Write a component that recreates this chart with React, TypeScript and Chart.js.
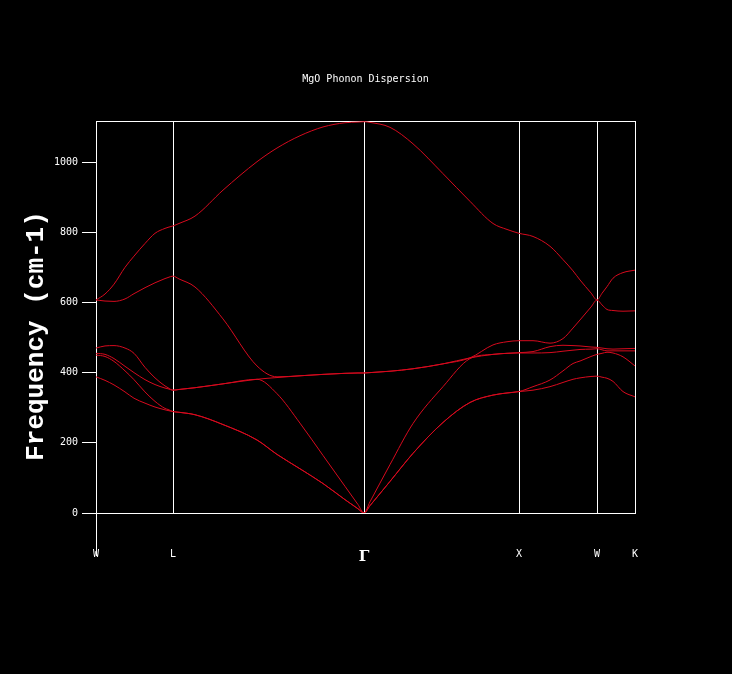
import React, { useEffect, useRef } from 'react';
import { Chart, registerables } from 'chart.js';

Chart.register(...registerables);

const chartTitle = 'MgO Phonon Dispersion';
const yAxisTitle = 'Frequency (cm-1)';

// high-symmetry points along the k-path (path distance)
const symmetryLabels = ['W', 'L', 'Γ', 'X', 'W', 'K'];
const symmetryPositions = [0, 0.77, 2.68, 4.23, 5.01, 5.39];

const yTicks = [0, 200, 400, 600, 800, 1000];

// k-path sample positions
const kPath = [
  0, 0.09, 0.18, 0.29, 0.38, 0.49, 0.59, 0.69, 0.72, 0.77, 0.83,
  0.99, 1.27, 1.61, 1.81, 2.04, 2.27, 2.49, 2.62, 2.68, 2.74,
  2.94, 3.17, 3.47, 3.74, 3.97, 4.11, 4.23,
  4.37, 4.54, 4.67, 4.77, 4.84, 4.95, 5.01, 5.06,
  5.11, 5.17, 5.27, 5.39,
];

// phonon frequencies (cm-1), bands sorted by frequency
const band1 = [
  388, 378, 365, 345, 327, 313, 302, 294, 292, 289, 287,
  280, 252, 208, 167, 126, 84, 38, 12, 0, 21,
  90, 170, 258, 315, 336, 342, 346,
  350, 360, 372, 381, 385, 389, 390, 387,
  384, 375, 346, 331,
];
const band2 = [
  450, 446, 432, 405, 380, 345, 318, 298, 295, 289, 287,
  280, 252, 208, 167, 126, 84, 38, 12, 0, 21,
  90, 170, 258, 315, 336, 342, 346,
  360, 379, 405, 426, 433, 446, 452, 455,
  458, 456, 445, 419,
];
const band3 = [
  455, 452, 440, 418, 400, 380, 366, 356, 354, 350, 352,
  357, 368, 381, 340, 256, 164, 76, 24, 0, 32,
  138, 255, 360, 440, 452, 455, 456,
  456, 457, 461, 464, 466, 467, 468, 465,
  462, 462, 462, 462,
];
const band4 = [
  470, 476, 477, 470, 455, 415, 385, 362, 357, 350, 352,
  357, 368, 381, 386, 391, 395, 398, 399, 399, 400,
  404, 411, 425, 442, 452, 455, 457,
  460, 474, 478, 477, 476, 473, 472, 470,
  468, 467, 468, 469,
];
const band5 = [
  607, 604, 603, 610, 625, 642, 656, 668, 671, 675, 667,
  644, 553, 419, 388, 391, 395, 398, 399, 399, 400,
  404, 411, 425, 442, 479, 488, 491,
  491, 484, 497, 527, 550, 587, 607, 593,
  580, 577, 575, 576,
];
const band6 = [
  607, 624, 652, 700, 732, 768, 797, 811, 814, 818, 825,
  846, 920, 1001, 1040, 1075, 1100, 1112, 1114, 1115, 1113,
  1099, 1052, 967, 888, 825, 808, 797,
  788, 760, 722, 690, 664, 627, 607, 626,
  645, 669, 685, 692,
];

const lineColor = 'rgb(215, 10, 30)';

const framePlugin = {
  id: 'frameExtras',
  beforeDatasetsDraw(chart: any) {
    const { ctx, chartArea } = chart;
    const { left, right, top, bottom } = chartArea;
    const lx = Math.round(left) + 0.5;
    const ty = Math.round(top) + 0.5;
    ctx.save();
    ctx.strokeStyle = '#ffffff';
    ctx.lineWidth = 1;
    ctx.beginPath();
    ctx.moveTo(left, ty);
    ctx.lineTo(right + 1, ty);
    ctx.moveTo(lx, bottom);
    ctx.lineTo(lx, bottom + 43);
    ctx.stroke();
    ctx.translate(36, (top + bottom) / 2 + 19);
    ctx.rotate(-Math.PI / 2);
    ctx.font = 'bold 26px "Liberation Mono"';
    ctx.fillStyle = '#ffffff';
    ctx.textAlign = 'center';
    ctx.textBaseline = 'middle';
    ctx.fillText(yAxisTitle, 0, 0);
    ctx.restore();
  },
};

export default function App() {
  const ref = useRef<HTMLCanvasElement>(null);

  useEffect(() => {
    document.body.style.margin = '0';
    document.body.style.background = '#000';
    const bands = [band1, band2, band3, band4, band5, band6];
    const monoFont = { family: '"DejaVu Sans Mono", monospace', size: 10, weight: 'normal' as const };
    const chart = new Chart(ref.current as HTMLCanvasElement, {
      type: 'line',
      data: {
        datasets: bands.map((b, i) => ({
          label: `Band ${i + 1}`,
          data: kPath.map((k, j) => ({ x: k, y: b[j] })),
          borderColor: lineColor,
          borderWidth: 1,
          pointRadius: 0,
          fill: false,
          cubicInterpolationMode: 'monotone' as const,
        })),
      },
      options: {
        animation: false,
        responsive: false,
        maintainAspectRatio: false,
        layout: { padding: { left: 0, right: 97, top: 0, bottom: 0 } },
        plugins: {
          legend: { display: false },
          tooltip: { enabled: false },
          title: {
            display: true,
            text: chartTitle,
            color: '#ffffff',
            fullSize: false,
            font: monoFont,
            padding: { top: 73, bottom: 36 },
          },
        },
        scales: {
          x: {
            type: 'linear',
            min: 0,
            max: 5.39,
            afterBuildTicks: (s: any) => {
              s.ticks = symmetryPositions.map((v) => ({ value: v }));
            },
            afterFit: (s: any) => {
              s.height = 161;
            },
            grid: { color: '#ffffff', lineWidth: 1, drawTicks: false },
            border: { color: '#ffffff' },
            ticks: {
              color: '#ffffff',
              padding: 35,
              autoSkip: false,
              maxRotation: 0,
              callback: (_v: any, i: number) => symmetryLabels[i],
              font: (c: any) =>
                symmetryLabels[c.index] === 'Γ'
                  ? { family: '"DejaVu Serif", serif', size: 15, weight: 'bold' }
                  : monoFont,
            },
          },
          y: {
            type: 'linear',
            min: 0,
            max: 1117,
            afterBuildTicks: (s: any) => {
              s.ticks = yTicks.map((v) => ({ value: v }));
            },
            afterFit: (s: any) => {
              s.width = 96;
            },
            grid: { drawOnChartArea: false, color: '#ffffff', tickColor: '#ffffff', tickLength: 14 },
            border: { color: '#ffffff' },
            ticks: {
              color: '#ffffff',
              padding: 4,
              font: monoFont,
              callback: (v: any) => String(v),
            },
          },
        },
      },
      plugins: [framePlugin],
    });
    return () => chart.destroy();
  }, []);

  return (
    <div style={{ width: 732, height: 674, background: '#000' }}>
      <canvas ref={ref} width={732} height={674} style={{ display: 'block' }} />
    </div>
  );
}
